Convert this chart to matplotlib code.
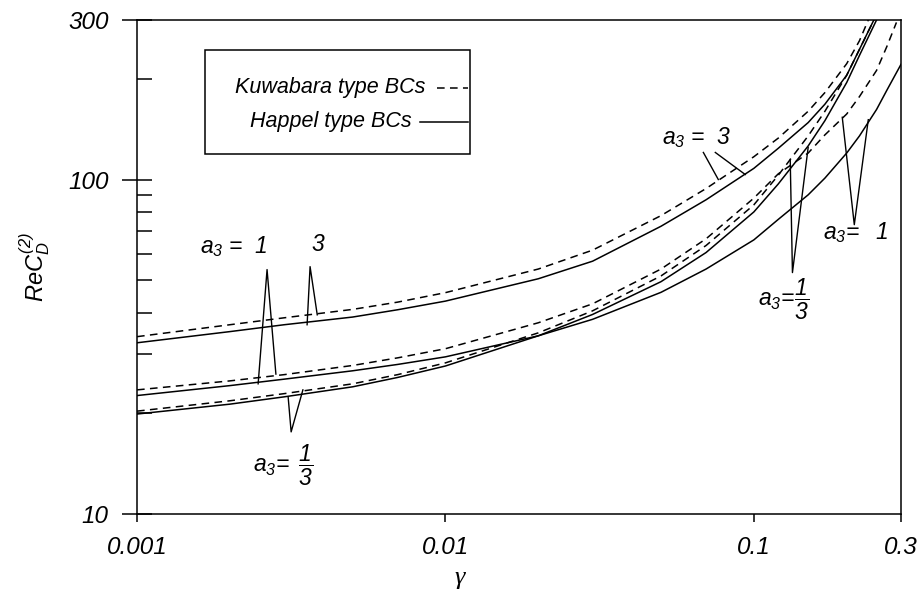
import matplotlib
matplotlib.use("Agg")
import matplotlib.pyplot as plt
import matplotlib.ticker as ticker
from matplotlib.patches import Rectangle

# ---- data ----
g_common = [0.001, 0.002, 0.003, 0.005, 0.007, 0.01, 0.02, 0.03, 0.05, 0.07,
            0.1, 0.12, 0.15, 0.17, 0.2, 0.22]

# a3 = 3 : Kuwabara (dashed) / Happel (solid)
g_kuw_3 = g_common + [0.235]
kuw_3 = [33.9, 36.8, 38.6, 40.9, 43.0, 45.9, 54.0, 61.5, 78.0, 94.0,
         117, 133, 160, 182, 222, 260, 300]
g_hap_3 = g_common + [0.245]
hap_3 = [32.5, 35.1, 36.8, 38.8, 40.8, 43.3, 50.5, 57.0, 72.5, 87.0,
         108, 124, 148, 168, 205, 245, 300]

# a3 = 1
g_kuw_1 = g_common + [0.25, 0.27, 0.29]
kuw_1 = [23.5, 25.0, 26.1, 27.8, 29.3, 31.2, 37.3, 42.5, 54.0, 66.5,
         88, 104, 120, 136, 157, 177, 212, 250, 295]
g_hap_1 = g_common + [0.25, 0.27, 0.3]
hap_1 = [22.6, 24.2, 25.3, 26.8, 28.0, 29.5, 34.1, 38.2, 46.0, 54.0,
         66, 76, 90, 101, 120, 135, 162, 185, 221]

# a3 = 1/3
g_kuw_13 = g_common + [0.245]
kuw_13 = [20.3, 21.8, 22.9, 24.5, 26.1, 28.3, 34.8, 40.5, 51.5, 63.5,
          84, 103, 135, 160, 205, 245, 300]
g_hap_13 = g_common + [0.25]
hap_13 = [19.9, 21.3, 22.4, 24.0, 25.6, 27.7, 34.1, 39.5, 49.5, 60.5,
          80, 97, 126, 150, 195, 235, 300]

# curve labels (text, x, y) and pointer polylines
labels = [
    (r"$a_3$ =  1", 0.0016, 63.0),
    (r"3", 0.00369, 63.8),
    (r"$a_3\!=\;\dfrac{1}{3}$", 0.00238, 14.0),
    (r"$a_3$ =  3", 0.0504, 133.6),
    (r"$a_3\!=\!\dfrac{1}{3}$", 0.1033, 43.7),
    (r"$a_3\!=$  1", 0.168, 69.3),
]
pointers = [
    ([0.00247, 0.00264, 0.00282], [24.5, 53.8, 26.2]),
    ([0.00356, 0.00364, 0.00384], [36.8, 54.9, 39.4]),
    ([0.00309, 0.00316, 0.00345], [22.4, 17.6, 23.5]),
    ([0.0767, 0.0686], [100, 120.5]),
    ([0.0938, 0.0750], [103.5, 120.5]),
    ([0.1312, 0.1334, 0.150], [114.8, 52.7, 124.7]),
    ([0.1935, 0.2117, 0.235], [153.5, 73.3, 151]),
]

plt.rcParams["font.family"] = ["Liberation Sans", "DejaVu Sans"]
plt.rcParams["mathtext.fontset"] = "custom"
plt.rcParams["mathtext.it"] = "Liberation Sans:italic"
plt.rcParams["mathtext.rm"] = "Liberation Sans:italic"

fig = plt.figure(figsize=(9.24, 5.98), dpi=100)
ax = fig.add_axes([0.1483, 0.1405, 0.8268, 0.8261])

dash = dict(color="black", linewidth=1.1, dashes=(5, 3.5))
solid = dict(color="black", linewidth=1.1)

ax.plot(g_kuw_3, kuw_3, **dash)
ax.plot(g_hap_3, hap_3, **solid)
ax.plot(g_kuw_1, kuw_1, **dash)
ax.plot(g_hap_1, hap_1, **solid)
ax.plot(g_kuw_13, kuw_13, **dash)
ax.plot(g_hap_13, hap_13, **solid)

for xs, ys in pointers:
    ax.plot(xs, ys, color="black", linewidth=1.0)

for txt, x, y in labels:
    ax.text(x, y, txt, fontsize=16.5, style="italic", ha="left", va="center")

ax.set_xscale("log")
ax.set_yscale("log")
ax.set_xlim(0.001, 0.3)
ax.set_ylim(10, 300)

ax.xaxis.set_major_locator(ticker.FixedLocator([0.001, 0.01, 0.1, 0.3]))
ax.xaxis.set_major_formatter(ticker.FixedFormatter(["0.001", "0.01", "0.1", "0.3"]))
ax.xaxis.set_minor_locator(ticker.NullLocator())
ax.yaxis.set_major_locator(ticker.FixedLocator([10, 100, 300]))
ax.yaxis.set_major_formatter(ticker.FixedFormatter(["10", "100", "300"]))
ax.yaxis.set_minor_locator(ticker.FixedLocator([20, 30, 40, 50, 60, 70, 80, 90, 200]))
ax.yaxis.set_minor_formatter(ticker.NullFormatter())

ax.tick_params(axis="x", which="major", direction="out", length=6, width=1.1,
               pad=10, labelsize=17.5)
ax.tick_params(axis="y", which="major", direction="inout", length=21, width=1.1,
               pad=10, labelsize=17.5)
ax.tick_params(axis="y", which="minor", direction="in", length=11, width=1.1)
for lab in ax.get_xticklabels() + ax.get_yticklabels():
    lab.set_style("italic")

for sp in ax.spines.values():
    sp.set_linewidth(1.1)

ax.set_xlabel("γ", fontsize=19, family="Liberation Serif", style="italic", va="center")
ax.xaxis.set_label_coords(0.423, -0.13)
ax.set_ylabel(r"$ReC_D^{(2)}$", fontsize=17)
ax.yaxis.set_label_coords(-0.111, 0.5)

# legend box drawn by hand: text first, sample line after
ax.add_patch(Rectangle((0.089, 0.729), 0.347, 0.21, transform=ax.transAxes,
                       facecolor="white", edgecolor="black", linewidth=1.1, zorder=3))
ax.text(0.128, 0.864, "Kuwabara type BCs", transform=ax.transAxes, fontsize=15.5,
        style="italic", va="center", zorder=4)
ax.plot([0.393, 0.433], [0.862, 0.862], transform=ax.transAxes, zorder=4, **dash)
ax.text(0.148, 0.794, "Happel type BCs", transform=ax.transAxes, fontsize=15.5,
        style="italic", va="center", zorder=4)
ax.plot([0.370, 0.433], [0.794, 0.794], transform=ax.transAxes, zorder=4, **solid)

fig.savefig("out.png", dpi=100)
